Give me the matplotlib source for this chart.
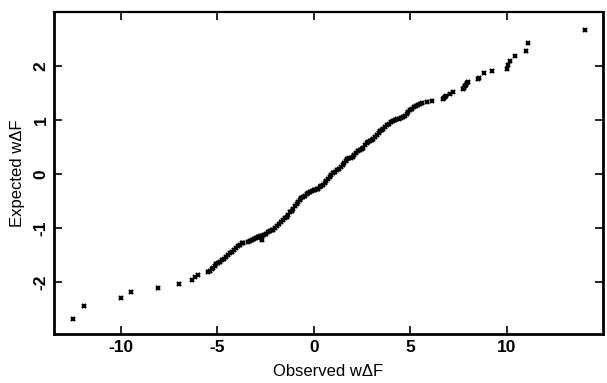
import numpy as np
from matplotlib import pyplot as plt

# observed vs expected (normal probability plot)
observed = [
    -12.47, -11.90, -10.00, -9.47, -8.10, -6.98, -6.30, -6.16, -6.00,
    -5.48, -5.40, -5.30, -5.22, -5.13, -5.05, -4.96, -4.85, -4.75, -4.65,
    -4.55, -4.45, -4.35, -4.26, -4.15, -4.05, -3.95, -3.85, -3.75, -3.70,
    -3.42, -3.30, -3.20, -3.10, -3.00, -2.90, -2.80, -2.72, -2.70, -2.68,
    -2.58, -2.48, -2.38, -2.28, -2.18, -2.10, -2.00, -1.90, -1.80, -1.70,
    -1.60, -1.50, -1.41, -1.32, -1.24, -1.15, -1.06, -0.98, -0.90, -0.82,
    -0.74, -0.65, -0.55, -0.47, -0.38, -0.30, -0.21, -0.12, -0.02, 0.08,
    0.15, 0.22, 0.30, 0.38, 0.47, 0.57, 0.65, 0.73, 0.82, 0.91,
    1.00, 1.10, 1.20, 1.30, 1.40, 1.50, 1.58, 1.65, 1.72, 1.80,
    1.90, 2.00, 2.10, 2.20, 2.30, 2.38, 2.47, 2.56, 2.65, 2.73,
    2.82, 2.90, 3.00, 3.07, 3.15, 3.25, 3.35, 3.45, 3.52, 3.60,
    3.70, 3.80, 3.90, 4.00, 4.10, 4.20, 4.30, 4.40, 4.50, 4.60,
    4.72, 4.80, 4.90, 5.00, 5.10, 5.20, 5.30, 5.41, 5.50, 5.58,
    5.84, 6.10, 6.70, 6.75, 6.79, 6.85, 7.05, 7.22, 7.74, 7.78,
    7.82, 7.88, 7.95, 8.00, 8.50, 8.57, 8.83, 9.24, 10.00, 10.07,
    10.15, 10.40, 10.98, 11.07, 14.04,
]
expected = [
    -2.69, -2.45, -2.30, -2.19, -2.11, -2.04, -1.97, -1.90, -1.86,
    -1.81, -1.79, -1.76, -1.73, -1.70, -1.67, -1.65, -1.62, -1.60, -1.57,
    -1.53, -1.50, -1.47, -1.44, -1.41, -1.37, -1.34, -1.31, -1.28, -1.27,
    -1.25, -1.24, -1.22, -1.21, -1.19, -1.17, -1.15, -1.19, -1.22, -1.14,
    -1.13, -1.11, -1.08, -1.05, -1.04, -1.03, -1.00, -0.96, -0.92, -0.89,
    -0.86, -0.82, -0.79, -0.75, -0.71, -0.68, -0.64, -0.60, -0.56, -0.52,
    -0.49, -0.45, -0.42, -0.40, -0.37, -0.35, -0.33, -0.31, -0.30, -0.29,
    -0.28, -0.27, -0.24, -0.22, -0.20, -0.17, -0.13, -0.09, -0.05, -0.02,
    0.01, 0.04, 0.07, 0.10, 0.13, 0.16, 0.20, 0.24, 0.27, 0.29,
    0.30, 0.32, 0.35, 0.38, 0.42, 0.44, 0.46, 0.48, 0.53, 0.57,
    0.59, 0.61, 0.63, 0.65, 0.68, 0.72, 0.76, 0.80, 0.82, 0.84,
    0.87, 0.90, 0.93, 0.96, 0.98, 1.00, 1.01, 1.02, 1.04, 1.06,
    1.08, 1.11, 1.15, 1.18, 1.21, 1.24, 1.26, 1.28, 1.30, 1.31,
    1.34, 1.36, 1.38, 1.40, 1.42, 1.44, 1.48, 1.52, 1.57, 1.60,
    1.62, 1.65, 1.68, 1.71, 1.75, 1.77, 1.86, 1.90, 1.94, 2.01,
    2.10, 2.19, 2.28, 2.42, 2.67,
]
x_ticks = [-10, -5, 0, 5, 10]
y_ticks = [-2, -1, 0, 1, 2]

plt.rcParams['font.family'] = ['Liberation Sans', 'DejaVu Sans']
plt.rcParams['axes.unicode_minus'] = False

fig = plt.figure(figsize=(6.07, 3.83), dpi=100)
ax = fig.add_axes([0.089, 0.128, 0.904, 0.841])

ax.plot(observed, expected, linestyle='none', marker='x', markersize=3.2,
        markeredgewidth=1.6, color='black')

ax.set_xlim(-13.47, 14.97)
ax.set_ylim(-2.96, 3.0)
ax.set_xticks(x_ticks)
ax.set_yticks(y_ticks)
ax.set_xticklabels([str(t) for t in x_ticks], fontweight='bold', fontsize=12.5)
ax.set_yticklabels([str(t) for t in y_ticks], fontweight='bold', fontsize=12.5,
                   rotation=90, va='center')
ax.tick_params(direction='in', length=6, width=1.2, top=True, right=True,
               pad=4)

for side in ['left', 'right', 'bottom']:
    ax.spines[side].set_linewidth(2.0)
ax.spines['top'].set_linewidth(1.6)

ax.set_xlabel('Observed w\u0394F', fontsize=12, labelpad=7)
ax.set_ylabel('Expected w\u0394F', fontsize=12, labelpad=6)

fig.savefig('out.png', dpi=100)
